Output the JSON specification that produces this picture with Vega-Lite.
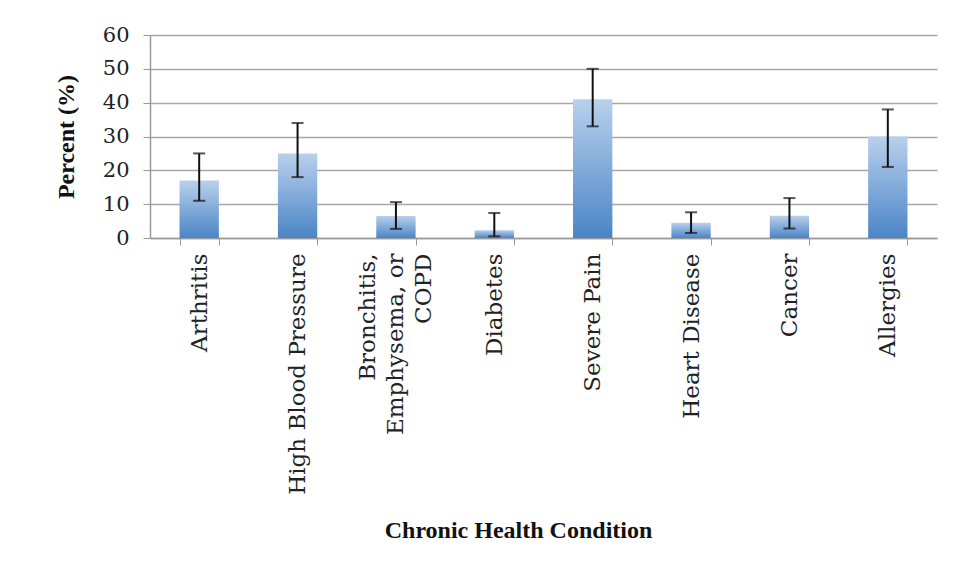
{
  "$schema": "https://vega.github.io/schema/vega-lite/v6.json",
  "width": 787,
  "height": 203,
  "autosize": {"type": "none"},
  "padding": {"left": 150, "top": 35, "right": 21, "bottom": 340},
  "background": "white",
  "config": {
    "view": {"stroke": null},
    "axis": {"labelFont": "DejaVu Serif", "titleFont": "Liberation Serif", "labelColor": "#222", "titleColor": "#111"},
    "axisY": {
      "titleFontSize": 24,
      "titleFontWeight": "bold",
      "titlePadding": 24,
      "labelOverlap": false,
      "labelFontSize": 21,
      "labelPadding": 14,
      "tickSize": 7,
      "tickColor": "#999",
      "domainColor": "#999",
      "domainWidth": 1.5,
      "gridColor": "#aaa6a3",
      "gridWidth": 1.5
    }
  },
  "data": {
    "values": [
      {"condition": "Arthritis", "percent": 17, "lower": 11, "upper": 25},
      {"condition": "High Blood Pressure", "percent": 25, "lower": 18, "upper": 34},
      {"condition": "Bronchitis, Emphysema, or COPD", "percent": 6.5, "lower": 2.7, "upper": 10.6},
      {"condition": "Diabetes", "percent": 2.3, "lower": 0.5, "upper": 7.4},
      {"condition": "Severe Pain", "percent": 41, "lower": 33, "upper": 50},
      {"condition": "Heart Disease", "percent": 4.5, "lower": 1.5, "upper": 7.6},
      {"condition": "Cancer", "percent": 6.6, "lower": 2.8, "upper": 11.8},
      {"condition": "Allergies", "percent": 30, "lower": 21, "upper": 38}
    ]
  },
  "encoding": {
    "x": {
      "field": "condition",
      "type": "nominal",
      "sort": null,
      "scale": {"paddingInner": 0.6, "paddingOuter": 0.3},
      "axis": {
        "title": "Chronic Health Condition",
        "titleFontSize": 24,
        "titleFontWeight": "bold",
        "titlePadding": 80,
        "titleX": 368,
        "labelAngle": -90,
        "labelAlign": "right",
        "labelBaseline": "middle",
        "labelFontSize": 23,
        "labelLineHeight": 28,
        "labelPadding": 8,
        "labelOffset": {"condition": {"test": "datum.value == 'Bronchitis, Emphysema, or COPD'", "value": -28}, "value": 0},
        "labelExpr": "datum.value == 'Bronchitis, Emphysema, or COPD' ? ['Bronchitis,', 'Emphysema, or', 'COPD'] : datum.value",
        "tickBand": "extent",
        "tickSize": 7,
        "tickColor": "#999",
        "domainColor": "#999",
        "domainWidth": 1.5,
        "labelLimit": 400
      }
    }
  },
  "layer": [
    {
      "mark": {
        "type": "bar",
        "color": {
          "gradient": "linear",
          "x1": 0, "y1": 0, "x2": 0, "y2": 1,
          "stops": [
            {"offset": 0, "color": "#b9d0ec"},
            {"offset": 1, "color": "#4a85c6"}
          ]
        }
      },
      "encoding": {
        "y": {
          "field": "percent",
          "type": "quantitative",
          "scale": {"domain": [0, 60]},
          "axis": {"title": "Percent (%)", "values": [0, 10, 20, 30, 40, 50, 60]}
        }
      }
    },
    {
      "mark": {"type": "rule", "color": "#111", "strokeWidth": 2},
      "encoding": {
        "y": {"field": "lower", "type": "quantitative", "axis": {"title": "Percent (%)", "values": [0, 10, 20, 30, 40, 50, 60]}},
        "y2": {"field": "upper"}
      }
    },
    {
      "mark": {"type": "tick", "color": "#111", "thickness": 2, "size": 12},
      "encoding": {"y": {"field": "lower", "type": "quantitative", "axis": {"title": "Percent (%)", "values": [0, 10, 20, 30, 40, 50, 60]}}}
    },
    {
      "mark": {"type": "tick", "color": "#111", "thickness": 2, "size": 12},
      "encoding": {"y": {"field": "upper", "type": "quantitative", "axis": {"title": "Percent (%)", "values": [0, 10, 20, 30, 40, 50, 60]}}}
    }
  ]
}
